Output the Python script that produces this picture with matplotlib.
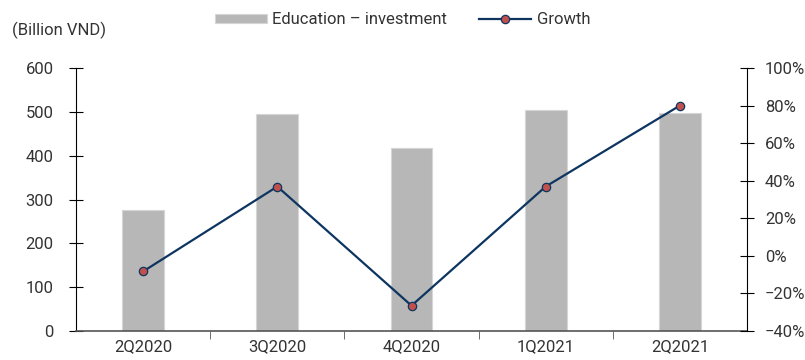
import matplotlib
matplotlib.use("Agg")
import matplotlib.pyplot as plt
from matplotlib.ticker import FuncFormatter

quarters = ["2Q2020", "3Q2020", "4Q2020", "1Q2021", "2Q2021"]
investment = [277, 495, 418, 505, 498]
growth = [-8.3, 36.9, -26.5, 36.9, 80.0]

plt.rcParams["font.family"] = ["Roboto", "DejaVu Sans"]
txt = "#333333"
navy = "#0E3560"
fs = 12

fig = plt.figure(figsize=(8.05, 3.6), dpi=100)
ax = fig.add_axes([76 / 805, 29 / 360, 671 / 805, 263 / 360])
x = list(range(len(quarters)))

ax.bar(x, investment, width=0.31, color="#B7B7B7", edgecolor="#D6D6D6",
       linewidth=0.8, label="Education \u2013 investment", zorder=2)
ax.set_xlim(-0.5, len(quarters) - 0.5)
ax.set_ylim(0, 600)
ax.set_yticks(range(0, 601, 100))
ax.set_xticks(x)
ax.set_xticklabels(quarters)
ax.set_xticks([i + 0.5 for i in x[:-1]], minor=True)
ax.tick_params(axis="x", which="major", length=0, pad=6, labelsize=fs, colors=txt)
ax.tick_params(axis="x", which="minor", length=6, direction="out", color="#555555")
ax.tick_params(axis="y", direction="inout", length=10, labelsize=fs, colors=txt, pad=11)
ax.tick_params(axis="y", color="black")
for s in ["top", "right"]:
    ax.spines[s].set_visible(False)
ax.spines["bottom"].set_color("#555555")
ax.spines["bottom"].set_linewidth(1.2)
ax.spines["left"].set_color("black")

ax2 = ax.twinx()
ax2.plot(x, growth, color=navy, lw=1.6, marker="o", markersize=6,
         markerfacecolor="#C0504D", markeredgecolor=navy, markeredgewidth=0.9,
         label="Growth", zorder=3)
ax2.set_ylim(-40, 100)
ax2.set_yticks(range(-40, 101, 20))
ax2.yaxis.set_major_formatter(FuncFormatter(lambda v, p: "{:d}%".format(int(v)).replace("-", "\u2212")))
ax2.tick_params(axis="y", direction="inout", length=10, labelsize=fs, colors=txt, pad=8)
ax2.tick_params(axis="y", color="black")
for s in ["top", "left", "bottom"]:
    ax2.spines[s].set_visible(False)
ax2.spines["right"].set_color("black")

fig.text(12 / 805, 1 - 30 / 360, "(Billion VND)", fontsize=fs, color=txt, va="center")

h1, l1 = ax.get_legend_handles_labels()
h2, l2 = ax2.get_legend_handles_labels()
fig.legend(h1 + h2, l1 + l2, loc="center", bbox_to_anchor=(0.5, 1 - 20 / 360),
           ncol=2, frameon=False, fontsize=fs, handlelength=3.1, handleheight=0.5,
           columnspacing=1.9, handletextpad=0.35, labelcolor=txt)

fig.savefig("out.png", dpi=100)
